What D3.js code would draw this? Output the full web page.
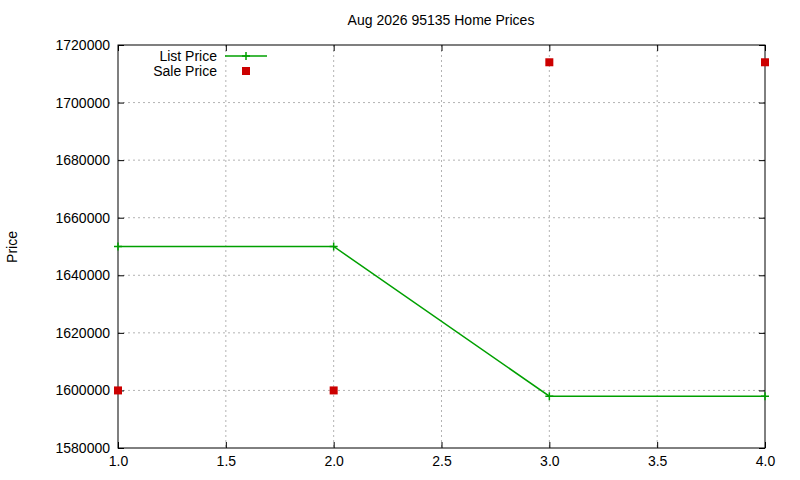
<!DOCTYPE html>
<html>
<head>
<meta charset="utf-8">
<script src="https://cdn.jsdelivr.net/npm/d3@7"></script>
<style>
body { margin: 0; background: #fff; }
text { font-family: "Liberation Sans", Arial, sans-serif; font-size: 14px; }
</style>
</head>
<body>
<svg id="chart" width="800" height="480"></svg>
<script>
let months = [1, 2, 3, 4];
let listPrice = [1650000, 1650000, 1598000, 1598000];
let salePrice = [1600000, 1600000, 1714000, 1714000];
let xTicks = [1, 1.5, 2, 2.5, 3, 3.5, 4];
let yTicks = [1580000, 1600000, 1620000, 1640000, 1660000, 1680000, 1700000, 1720000];

let svg = d3.select("#chart");
let plotLeft = 118, plotRight = 765, plotTop = 45, plotBottom = 448;

let x = d3.scaleLinear().domain([1, 4]).range([plotLeft, plotRight]);
let y = d3.scaleLinear().domain([1580000, 1720000]).range([plotBottom, plotTop]);

// grid
svg.append("g").selectAll("line").data(xTicks.slice(1, -1)).enter().append("line")
    .attr("x1", d => x(d)).attr("x2", d => x(d)).attr("y1", plotTop).attr("y2", plotBottom)
    .attr("stroke", "#a0a0a0").attr("stroke-dasharray", "2,3").attr("stroke-width", 0.8);
svg.append("g").selectAll("line").data(yTicks.slice(1, -1)).enter().append("line")
    .attr("x1", plotLeft).attr("x2", plotRight).attr("y1", d => y(d)).attr("y2", d => y(d))
    .attr("stroke", "#a0a0a0").attr("stroke-dasharray", "2,3").attr("stroke-width", 0.8);

// axes (ticks inward, mirrored)
let ax = [
    [d3.axisBottom(x).tickValues(xTicks).tickSizeInner(-6).tickSizeOuter(0).tickPadding(8), `translate(0,${plotBottom})`, true],
    [d3.axisTop(x).tickValues(xTicks).tickSizeInner(-6).tickSizeOuter(0), `translate(0,${plotTop})`, false],
    [d3.axisLeft(y).tickValues(yTicks).tickSizeInner(-6).tickSizeOuter(0).tickPadding(8).tickFormat(d3.format("d")), `translate(${plotLeft},0)`, true],
    [d3.axisRight(y).tickValues(yTicks).tickSizeInner(-6).tickSizeOuter(0), `translate(${plotRight},0)`, false]
];
ax.forEach(([a, t, labels]) => {
    let g = svg.append("g").attr("transform", t).call(a);
    g.select(".domain").remove();
    g.selectAll("line").attr("stroke", "#000");
    g.selectAll("text").attr("fill", labels ? "#000" : "none")
        .style("font-family", "Liberation Sans, Arial, sans-serif").style("font-size", "14px");
});
svg.append("rect").attr("x", plotLeft).attr("y", plotTop)
    .attr("width", plotRight - plotLeft).attr("height", plotBottom - plotTop)
    .attr("fill", "none").attr("stroke", "#000");

// list price line
let pts = months.map((m, i) => [x(m), y(listPrice[i])]);
svg.append("path").attr("d", d3.line()(pts)).attr("fill", "none")
    .attr("stroke", "#00a000").attr("stroke-width", 1.5);
function plus(cx, cy) {
    svg.append("path").attr("d", `M${cx - 4},${cy}H${cx + 4}M${cx},${cy - 4}V${cy + 4}`)
        .attr("stroke", "#00a000").attr("stroke-width", 1.5);
}
pts.forEach(p => plus(p[0], p[1]));

// sale price points
svg.append("g").selectAll("rect").data(months).enter().append("rect")
    .attr("x", d => x(d) - 4).attr("y", (d, i) => y(salePrice[i]) - 4)
    .attr("width", 8).attr("height", 8).attr("fill", "#cc0000");

// legend
svg.append("text").attr("x", 217).attr("y", 61).attr("text-anchor", "end").text("List Price");
svg.append("line").attr("x1", 225).attr("x2", 267).attr("y1", 56).attr("y2", 56)
    .attr("stroke", "#00a000").attr("stroke-width", 1.5);
plus(246, 56);
svg.append("text").attr("x", 217).attr("y", 76).attr("text-anchor", "end").text("Sale Price");
svg.append("rect").attr("x", 242).attr("y", 67).attr("width", 8).attr("height", 8).attr("fill", "#cc0000");

// titles
svg.append("text").attr("x", 441).attr("y", 25).attr("text-anchor", "middle").text("Aug 2026 95135 Home Prices");
svg.append("text").attr("transform", "translate(17,247) rotate(-90)").attr("text-anchor", "middle").text("Price");
</script>
</body>
</html>
